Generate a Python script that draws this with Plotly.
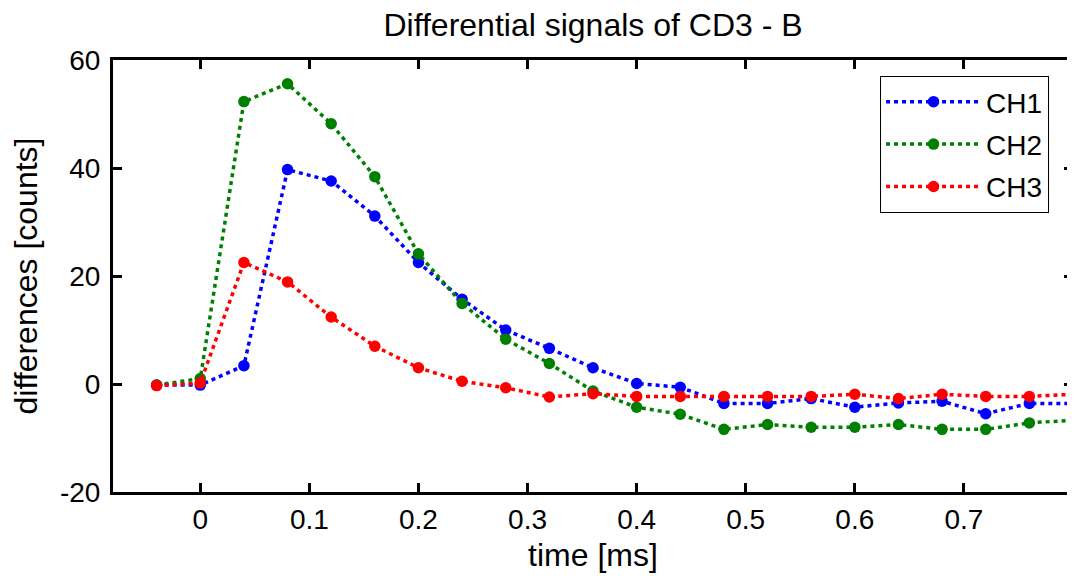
import plotly.graph_objects as go

# ---- data ----
time_ms = [-0.04, 0.00, 0.04, 0.08, 0.12, 0.16, 0.20, 0.24, 0.28, 0.32, 0.36,
           0.40, 0.44, 0.48, 0.52, 0.56, 0.60, 0.64, 0.68, 0.72, 0.76, 0.80]
ch1 = [-0.2, -0.2, 3.4, 39.7, 37.6, 31.1, 22.5, 15.7, 10.0, 6.6, 3.0,
       0.1, -0.6, -3.6, -3.6, -2.7, -4.3, -3.5, -3.2, -5.5, -3.6, -3.6]
ch2 = [-0.2, 1.0, 52.3, 55.6, 48.2, 38.4, 24.1, 14.9, 8.3, 3.8, -1.3,
       -4.3, -5.6, -8.4, -7.5, -8.0, -8.0, -7.5, -8.4, -8.4, -7.2, -6.7]
ch3 = [-0.3, 0.2, 22.5, 18.9, 12.4, 7.0, 3.0, 0.5, -0.7, -2.4, -1.8,
       -2.3, -2.3, -2.3, -2.3, -2.3, -1.9, -2.7, -1.9, -2.3, -2.3, -1.9]
series_names = ["CH1", "CH2", "CH3"]
series_colors = ["#0000ff", "#008000", "#ff0000"]

x_tickvals = [0, 0.1, 0.2, 0.3, 0.4, 0.5, 0.6, 0.7]
x_ticktext = ["0", "0.1", "0.2", "0.3", "0.4", "0.5", "0.6", "0.7"]
y_tickvals = [-20, 0, 20, 40, 60]
y_ticktext = ["-20", "0", "20", "40", "60"]

title_text = "Differential signals of CD3 - B"
x_title = "time [ms]"
y_title = "differences [counts]"

FONT = "Liberation Sans, Arial, Helvetica, sans-serif"

# the page body adds an 8px margin; layout values below compensate for it
fig = go.Figure()
for i, (name, ys, col) in enumerate(zip(series_names, [ch1, ch2, ch3], series_colors)):
    fig.add_trace(go.Scatter(
        x=time_ms, y=ys, name=name, mode="lines+markers",
        line=dict(color=col, width=3.5, dash="4px,4px"),
        marker=dict(color=col, size=11.5, symbol="circle"),
        legendgroup=name, cliponaxis=False,
    ))

axis_common = dict(
    showline=True, linecolor="black", linewidth=3, mirror="ticks",
    ticks="inside", ticklen=9, tickwidth=3, tickcolor="black",
    showgrid=False, zeroline=False, automargin=False,
    tickfont=dict(family=FONT, size=28, color="black"),
)

fig.update_layout(
    width=1075, height=576,
    margin=dict(l=105, r=10, t=52, b=92, autoexpand=False),
    paper_bgcolor="white", plot_bgcolor="white",
    font=dict(family=FONT, color="black"),
    title=dict(text=title_text, x=(105 + 1065) / 2 / 1075, xanchor="center",
               y=1 - 17 / 576, yanchor="middle", yref="container", automargin=False,
               font=dict(family=FONT, size=32, color="black")),
    xaxis=dict(range=[-0.08, 0.8], tickvals=x_tickvals, ticktext=x_ticktext,
               title=dict(text=x_title, font=dict(family=FONT, size=32, color="black"), standoff=11),
               ticklabelstandoff=0,
               **axis_common),
    yaxis=dict(range=[-20, 60], tickvals=y_tickvals, ticktext=y_ticktext,
               title=dict(text=y_title, font=dict(family=FONT, size=32, color="black"), standoff=20),
               ticklabelstandoff=4,
               **axis_common),
    legend=dict(x=0.799, y=0.963, xanchor="left", yanchor="top",
                bordercolor="black", borderwidth=1, bgcolor="white",
                font=dict(family=FONT, size=28, color="black"),
                tracegroupgap=3, itemwidth=95),
    showlegend=True,
)

fig.write_html("out.html")
